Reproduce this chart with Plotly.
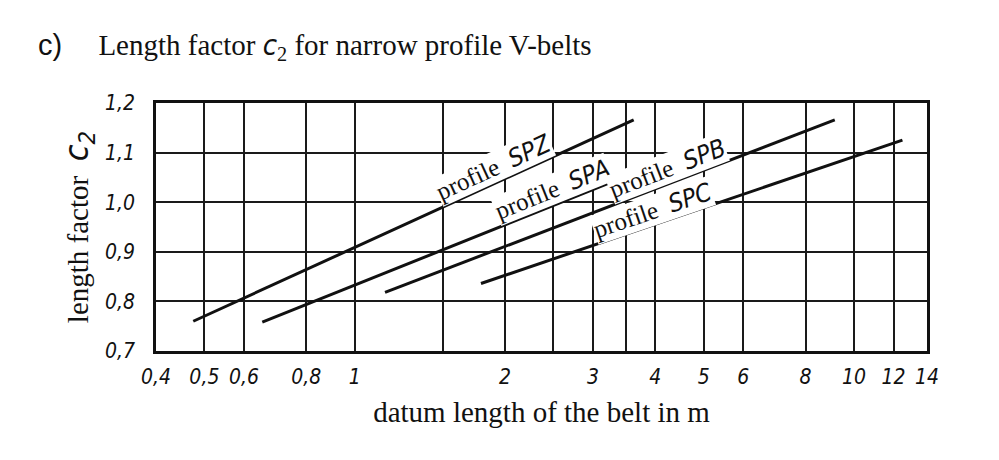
import math
import plotly.graph_objects as go

# ---------------- data ----------------
x_tick_vals = [0.4, 0.5, 0.6, 0.8, 1, 1.5, 2, 2.5, 3, 3.5, 4, 5, 6, 8, 10, 12, 14]
x_tick_text = ["0,4", "0,5", "0,6", "0,8", "1", "", "2", "", "3", "", "4", "5", "6", "8", "10", "12", "14"]
y_tick_vals = [0.7, 0.8, 0.9, 1.0, 1.1, 1.2]
y_tick_text = ["0,7", "0,8", "0,9", "1,0", "1,1", "1,2"]

profiles = ["SPZ", "SPA", "SPB", "SPC"]
spz_length = [0.475, 3.62]
spz_c2 = [0.760, 1.166]
spa_length = [0.653, 5.0]
spa_c2 = [0.758, 1.115]
spb_length = [1.15, 9.15]
spb_c2 = [0.818, 1.166]
spc_length = [1.79, 12.5]
spc_c2 = [0.836, 1.125]

lengths = [spz_length, spa_length, spb_length, spc_length]
factors = [spz_c2, spa_c2, spb_c2, spc_c2]

# where along each line its label sits (belt length in m) and its offset above the line (px)
label_at = [1.95, 2.55, 4.33, 4.03]
label_offset = [15, 15, 15, 14]

# ---------------- layout geometry ----------------
W, H = 999, 460
ML, MR, MT, MB = 156, 72, 103, 109
x_range = [math.log10(0.4), math.log10(14)]
y_range = [0.7, 1.2]
pw, ph = W - ML - MR, H - MT - MB
px_per_dec = pw / (x_range[1] - x_range[0])
px_per_unit = ph / (y_range[1] - y_range[0])

ISO = "Liberation Sans Narrow, DejaVu Sans Condensed, Arial Narrow, sans-serif"
SERIF = "Liberation Serif, Times New Roman, serif"

fig = go.Figure()
for name, xs, ys in zip(profiles, lengths, factors):
    fig.add_trace(go.Scatter(x=xs, y=ys, mode="lines", name="profile " + name,
                             line=dict(color="#111111", width=3), showlegend=False,
                             hoverinfo="skip"))

annotations = []
for name, xs, ys, xl, off in zip(profiles, lengths, factors, label_at, label_offset):
    lx0, lx1 = math.log10(xs[0]), math.log10(xs[1])
    t = (math.log10(xl) - lx0) / (lx1 - lx0)
    yl = ys[0] + (ys[1] - ys[0]) * t
    dxp = (lx1 - lx0) * px_per_dec
    dyp = (ys[1] - ys[0]) * px_per_unit
    th = math.atan2(dyp, dxp)
    annotations.append(dict(
        x=math.log10(xl), y=yl, xref="x", yref="y",
        text=f"profile&nbsp; <span style='font-family:{ISO};font-style:italic'>{name}</span>",
        showarrow=False, textangle=-math.degrees(th),
        xanchor="center", yanchor="middle",
        xshift=-off * math.sin(th), yshift=off * math.cos(th),
        font=dict(family=SERIF, size=25, color="#111111"),
        bgcolor="white", borderpad=0,
    ))

fig.update_layout(
    width=W, height=H,
    margin=dict(l=ML, r=MR, t=MT, b=MB),
    paper_bgcolor="white", plot_bgcolor="white",
    title=dict(
        text=f"<span style='font-family:Liberation Sans, Arial, sans-serif'>c)</span>"
             f"&nbsp;&nbsp;&nbsp;&nbsp; Length factor <span style='font-family:{ISO};font-style:italic'>c</span><sub>2</sub>"
             f" for narrow profile V-belts",
        x=0.038, xanchor="left", y=1 - 45 / H, yanchor="middle",
        font=dict(family=SERIF, size=29, color="#111111"),
    ),
    annotations=annotations,
)

fig.update_xaxes(
    type="log", range=x_range,
    tickmode="array", tickvals=x_tick_vals, ticktext=x_tick_text,
    showgrid=True, gridcolor="#1a1a1a", gridwidth=1.8,
    showline=True, mirror=True, linecolor="#111111", linewidth=2.5,
    ticks="", ticklabelstandoff=5,
    tickfont=dict(family=ISO, size=21, color="#111111", style="italic"),
    zeroline=False,
    title=dict(text="datum length of the belt in m", standoff=14,
               font=dict(family=SERIF, size=29, color="#111111")),
)
fig.update_yaxes(
    range=y_range,
    tickmode="array", tickvals=y_tick_vals, ticktext=y_tick_text,
    showgrid=True, gridcolor="#1a1a1a", gridwidth=1.8,
    showline=True, mirror=True, linecolor="#111111", linewidth=2.5,
    ticks="", ticklabelstandoff=14,
    tickfont=dict(family=ISO, size=21, color="#111111", style="italic"),
    zeroline=False,
    title=dict(text=f"length factor&nbsp; <span style='font-family:{ISO};font-style:italic;font-size:34px'>c<sub>2</sub></span>",
               standoff=8,
               font=dict(family=SERIF, size=29, color="#111111")),
)

fig.write_html("out.html", config={"displayModeBar": False},
               post_script="document.body.style.margin='0';")
